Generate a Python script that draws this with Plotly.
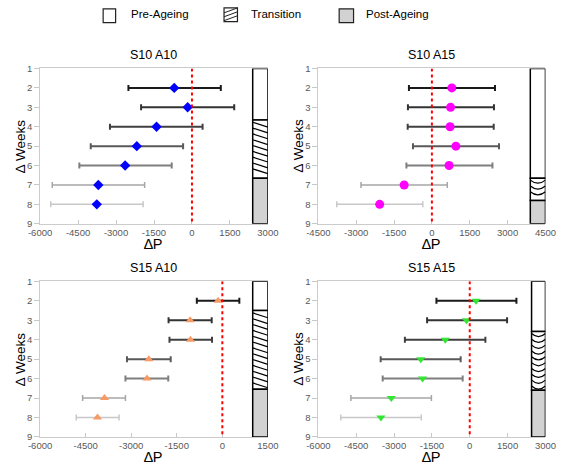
import plotly.graph_objects as go

W, H = 567, 468
weeks = [2, 3, 4, 5, 6, 7, 8]
bar_colors = ['#1a1a1a', '#333333', '#404040', '#595959', '#7f7f7f', '#a6a6a6', '#c8c8c8']

# Panel data: mean, lower bound, upper bound of error bars
s10a10_mean = [-700, -170, -1400, -2180, -2640, -3700, -3760]
s10a10_lo = [-2510, -2010, -3240, -4000, -4450, -5520, -5580]
s10a10_hi = [1140, 1670, 420, -350, -800, -1870, -1930]

s10a15_mean = [790, 740, 720, 950, 680, -1100, -2070]
s10a15_lo = [-910, -950, -960, -750, -1010, -2810, -3770]
s10a15_hi = [2500, 2460, 2450, 2660, 2400, 610, -360]

s15a10_mean = [-140, -1060, -1050, -2420, -2480, -3880, -4110]
s15a10_lo = [-840, -1770, -1740, -3140, -3190, -4600, -4810]
s15a10_hi = [560, -350, -340, -1700, -1780, -3190, -3400]

s15a15_mean = [250, -130, -970, -1940, -1870, -3110, -3520]
s15a15_lo = [-1320, -1690, -2570, -3530, -3450, -4710, -5110]
s15a15_hi = [1850, 1480, 620, -360, -280, -1520, -1920]

# Stage boundaries (week positions): pre-ageing end, transition end
stages = {
    'S10 A10': (3.65, 6.65),
    'S10 A15': (6.65, 7.8),
    'S15 A10': (2.5, 6.55),
    'S15 A15': (3.58, 6.6),
}
x_ranges = {
    'S10 A10': (-6000, 3000, [-6000, -4500, -3000, -1500, 0, 1500, 3000], 2400, 'hatch'),
    'S10 A15': (-4500, 4500, [-4500, -3000, -1500, 0, 1500, 3000, 4500], 3900, 'arc'),
    'S15 A10': (-6000, 1500, [-6000, -4500, -3000, -1500, 0, 1500], 1000, 'hatch'),
    'S15 A15': (-6000, 3000, [-6000, -4500, -3000, -1500, 0, 1500, 3000], 2450, 'arc'),
}
panels = [
    ('S10 A10', s10a10_mean, s10a10_lo, s10a10_hi, 'diamond', '#0000ff', 8),
    ('S10 A15', s10a15_mean, s10a15_lo, s10a15_hi, 'circle', '#ff00ff', 9),
    ('S15 A10', s15a10_mean, s15a10_lo, s15a10_hi, 'triangle-up', '#f79a64', 8),
    ('S15 A15', s15a15_mean, s15a15_lo, s15a15_hi, 'triangle-down', '#33e633', 8),
]

# pixel layout of plot areas
px_x = [(29.3, 266.7), (319.3, 556.0), (29.3, 266.7), (319.3, 556.0)]
px_y = [(64.0, 223.0), (64.0, 223.0), (282.0, 441.3), (282.0, 441.3)]

FONT = 'Liberation Sans, Arial, sans-serif'
fig = go.Figure()
shapes = []
annotations = []

for i, (name, mean, lo, hi, sym, col, msz) in enumerate(panels):
    xa = 'x' if i == 0 else f'x{i+1}'
    ya = 'y' if i == 0 else f'y{i+1}'
    xmin, xmax, tv, box_l, style = x_ranges[name]
    pre_end, tr_end = stages[name]

    # stage box
    segs = [(1, pre_end, 'white'), (pre_end, tr_end, 'white'), (tr_end, 9, '#d2d2d2')]
    for (a, b, fc) in segs:
        fig.add_trace(go.Bar(
            y=[(a + b) / 2], x=[xmax - box_l], base=[box_l], width=[b - a],
            orientation='h', marker=dict(color=fc, line=dict(color='black', width=1.5)),
            xaxis=xa, yaxis=ya, showlegend=False, hoverinfo='skip'))
    # transition pattern
    if style == 'hatch':
        y = pre_end + 0.12
        while y + 0.25 <= tr_end:
            shapes.append(dict(type='line', xref=xa, yref=ya, x0=box_l, x1=xmax,
                               y0=y, y1=y + 0.25, line=dict(color='black', width=1.2)))
            y += 0.3
    else:
        xm = (box_l + xmax) / 2
        y = pre_end + 0.1
        while y + 0.2 <= tr_end:
            shapes.append(dict(type='path', xref=xa, yref=ya,
                               path=f'M {box_l},{y} Q {xm},{y + 0.32} {xmax},{y}',
                               line=dict(color='black', width=1.2)))
            y += 0.3

    # zero line
    shapes.append(dict(type='line', xref=xa, yref=ya, x0=0, x1=0, y0=1, y1=9,
                       line=dict(color='#ff0000', width=2, dash='dot')))

    # points with error bars
    for k, w in enumerate(weeks):
        fig.add_trace(go.Scatter(
            x=[mean[k]], y=[w], mode='markers',
            marker=dict(symbol=sym, color=col, size=msz, line=dict(width=0)),
            error_x=dict(type='data', symmetric=False,
                         array=[hi[k] - mean[k]], arrayminus=[mean[k] - lo[k]],
                         color=bar_colors[k], thickness=2 if k < 5 else 1.5, width=3),
            xaxis=xa, yaxis=ya, showlegend=False, hoverinfo='skip'))

    x0, x1 = px_x[i]
    yt, yb = px_y[i]
    dom_x = [x0 / W, x1 / W]
    dom_y = [1 - yb / H, 1 - yt / H]
    axkey = 'xaxis' if i == 0 else f'xaxis{i+1}'
    aykey = 'yaxis' if i == 0 else f'yaxis{i+1}'
    fig.layout[axkey] = dict(domain=dom_x, anchor=ya, range=[xmin, xmax], tickvals=tv,
                             ticktext=[str(v) for v in tv], showgrid=False, zeroline=False,
                             showline=True, linecolor='#cccccc', linewidth=1, mirror=True,
                             ticks='inside', ticklen=4, tickcolor='#c8c8c8',
                             tickfont=dict(size=9.5, color='#595959', family=FONT))
    fig.layout[aykey] = dict(domain=dom_y, anchor=xa, range=[9, 1], tickvals=list(range(1, 10)),
                             showgrid=False, zeroline=False, showline=True, linecolor='#cccccc',
                             linewidth=1, ticks='outside', ticklen=5, tickcolor='#c8c8c8',
                             tickfont=dict(size=9.5, color='#595959', family=FONT))
    cx = (x0 + x1) / 2
    annotations.append(dict(text=name, x=cx / W, y=1 - (yt - 14) / H, xref='paper', yref='paper',
                            showarrow=False, font=dict(size=12.5, color='black', family=FONT),
                            xanchor='center', yanchor='middle'))
    annotations.append(dict(text='∆P', x=cx / W, y=1 - (yb + 20.5) / H, xref='paper', yref='paper',
                            showarrow=False, font=dict(size=14.5, color='black', family=FONT),
                            xanchor='center', yanchor='middle'))
    annotations.append(dict(text='∆ Weeks', x=(x0 - 21) / W, y=1 - ((yt + yb) / 2) / H,
                            xref='paper', yref='paper', textangle=-90, showarrow=False,
                            font=dict(size=13.5, color='black', family=FONT),
                            xanchor='center', yanchor='middle'))

# legend (manual)
legend_items = ['Pre-Ageing', 'Transition', 'Post-Ageing']
legend_boxes = [(95, 108, 3, 17, 'white'), (221, 235, 2, 16, 'white'), (341, 356, 3, 17, '#d2d2d2')]
legend_text_x = [122, 247, 367]
for (lx0, lx1, ly0, ly1, fc), lab, tx in zip(legend_boxes, legend_items, legend_text_x):
    shapes.append(dict(type='rect', xref='paper', yref='paper', x0=lx0 / W, x1=lx1 / W,
                       y0=1 - ly1 / H, y1=1 - ly0 / H, fillcolor=fc,
                       line=dict(color='#222222', width=1.2)))
    annotations.append(dict(text=lab, x=tx / W, y=1 - 8.5 / H, xref='paper', yref='paper',
                            showarrow=False, xanchor='left', yanchor='middle',
                            font=dict(size=11.5, color='black', family=FONT)))
# hatch inside legend transition box
for off in [5, 9, 13]:
    shapes.append(dict(type='line', xref='paper', yref='paper', x0=221 / W, x1=235 / W,
                       y0=1 - (off + 2) / H, y1=1 - (off - 3) / H,
                       line=dict(color='#222222', width=1)))

fig.update_layout(width=W, height=H, margin=dict(l=0, r=0, t=0, b=0),
                  paper_bgcolor='white', plot_bgcolor='white', shapes=shapes,
                  annotations=annotations, showlegend=False, barmode='overlay',
                  font=dict(family=FONT))
fig.write_html('out.html', config={'displayModeBar': False},
               post_script=("document.documentElement.style.overflow='hidden';"
                            "document.body.style.margin='0';"
                            "document.body.style.overflow='hidden';"))
